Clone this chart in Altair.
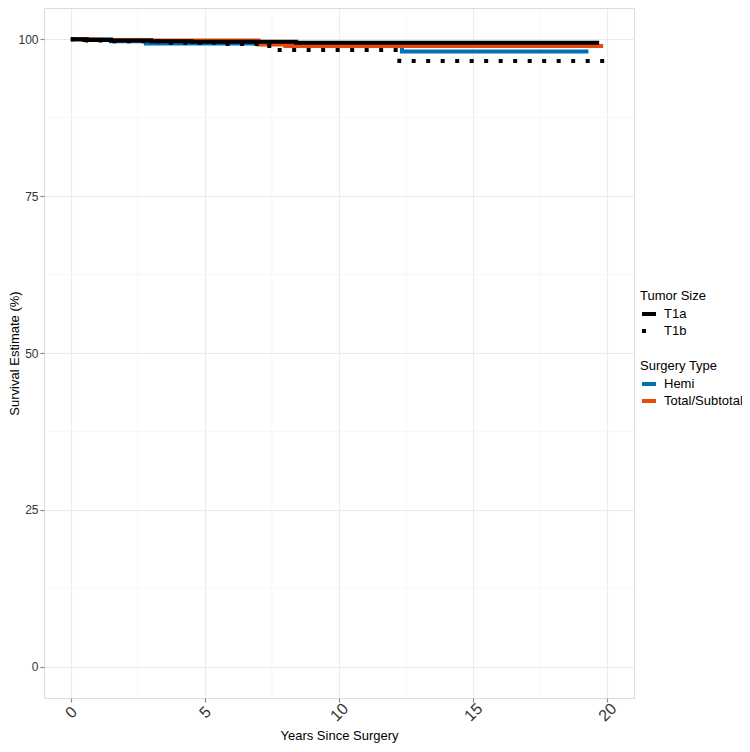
import altair as alt
import pandas as pd

# ---- data (step survival curves) ----
t1a_t = [0, 0.5, 1.5, 3.0, 4.5, 8.4, 19.7]
t1a_s = [100, 99.9, 99.8, 99.7, 99.6, 99.45, 99.45]

t1b_t = [0, 0.6, 1.5, 3.5, 5.4, 7.4, 12.25, 19.9]
t1b_s = [100, 99.8, 99.7, 99.45, 99.25, 98.3, 96.55, 96.55]

hemi_t = [0, 1.5, 2.8, 12.35, 19.3]
hemi_s = [100, 99.7, 99.35, 98.05, 98.05]

total_t = [0, 1.0, 3.0, 7.0, 8.0, 19.85]
total_s = [100, 99.9, 99.8, 99.2, 98.95, 98.95]

tumor_levels = ["T1a", "T1b"]
surgery_levels = ["Hemi", "Total/Subtotal"]
surgery_colors = ["#0072B2", "#E84A0C"]

x_major = [0, 5, 10, 15, 20]
x_minor = [2.5, 7.5, 12.5, 17.5]
y_major = [0, 25, 50, 75, 100]
y_minor = [12.5, 37.5, 62.5, 87.5]

FONT = "Liberation Sans"
W, H = 590, 690

tumor_df = pd.concat([
    pd.DataFrame({"time": t1a_t, "surv": t1a_s, "Tumor Size": "T1a"}),
    pd.DataFrame({"time": t1b_t, "surv": t1b_s, "Tumor Size": "T1b"}),
])
surg_df = pd.concat([
    pd.DataFrame({"time": hemi_t, "surv": hemi_s, "Surgery Type": "Hemi"}),
    pd.DataFrame({"time": total_t, "surv": total_s, "Surgery Type": "Total/Subtotal"}),
])

xscale = alt.Scale(domain=[-1, 21], nice=False, zero=False)
yscale = alt.Scale(domain=[-5, 105], nice=False, zero=False)

xaxis = alt.Axis(values=x_major, title="Years Since Surgery", labelAngle=315,
                 labelAlign="center", labelBaseline="middle", labelPadding=10,
                 labelFontSize=16, labelColor="#333333", labelFont=FONT,
                 titleFont=FONT, titleFontSize=13, titleFontWeight="normal",
                 titleColor="#000000", titleY=31, titleBaseline="top",
                 grid=True, gridColor="#ebebeb", gridWidth=1.1,
                 tickColor="#8a8a8a", tickSize=4, tickWidth=1.2, domain=False)
yaxis = alt.Axis(values=y_major, title="Survival Estimate (%)",
                 labelFontSize=12, labelColor="#333333", labelFont=FONT, labelPadding=2,
                 titleFont=FONT, titleFontSize=13, titleFontWeight="normal",
                 titleColor="#000000", titleX=-30, titleY=H / 2, titleAngle=270,
                 titleAlign="center", titleBaseline="middle",
                 grid=True, gridColor="#ebebeb", gridWidth=1.1,
                 tickColor="#8a8a8a", tickSize=4, tickWidth=1.2, domain=False)

# minor grid lines
xminor = alt.Chart(pd.DataFrame({"v": x_minor})).mark_rule(
    color="#f2f2f2", strokeWidth=0.6
).encode(x=alt.X("v:Q", scale=xscale, axis=xaxis))
yminor = alt.Chart(pd.DataFrame({"v": y_minor})).mark_rule(
    color="#f2f2f2", strokeWidth=0.6
).encode(y=alt.Y("v:Q", scale=yscale, axis=yaxis))

legend_common = dict(orient="none", legendX=W + 6, symbolType="stroke", symbolStrokeWidth=4,
                     symbolSize=196, labelOffset=6, titleFont=FONT, labelFont=FONT,
                     titleFontSize=13, labelFontSize=13, titleFontWeight="normal",
                     titleColor="#000", labelColor="#000", rowPadding=0, titlePadding=2)

surg = alt.Chart(surg_df).mark_line(
    interpolate="step-after", strokeWidth=4, strokeCap="butt"
).encode(
    x=alt.X("time:Q", scale=xscale, axis=xaxis),
    y=alt.Y("surv:Q", scale=yscale, axis=yaxis),
    color=alt.Color("Surgery Type:N",
                    scale=alt.Scale(domain=surgery_levels, range=surgery_colors),
                    legend=alt.Legend(legendY=352, **legend_common)),
    detail="Surgery Type:N",
)

tumor = alt.Chart(tumor_df).mark_line(
    interpolate="step-after", strokeWidth=4, color="#000000", strokeCap="butt"
).encode(
    x=alt.X("time:Q", scale=xscale, axis=xaxis),
    y=alt.Y("surv:Q", scale=yscale, axis=yaxis),
    strokeDash=alt.StrokeDash("Tumor Size:N",
                              scale=alt.Scale(domain=tumor_levels, range=[[1, 0], [4, 10.5]]),
                              legend=alt.Legend(legendY=282, symbolStrokeColor="#000000",
                                                **legend_common)),
)

chart = alt.layer(xminor, yminor, surg, tumor).properties(
    width=W, height=H,
    autosize=alt.AutoSizeParams(type="none"),
    padding={"left": 36, "top": 0, "right": 734 - 36 - W, "bottom": 736 - H},
).configure_view(
    stroke="#8a8a8a", strokeWidth=1.5
).configure(background="white")

chart.save("out.html", embed_options={"renderer": "svg", "actions": False})
